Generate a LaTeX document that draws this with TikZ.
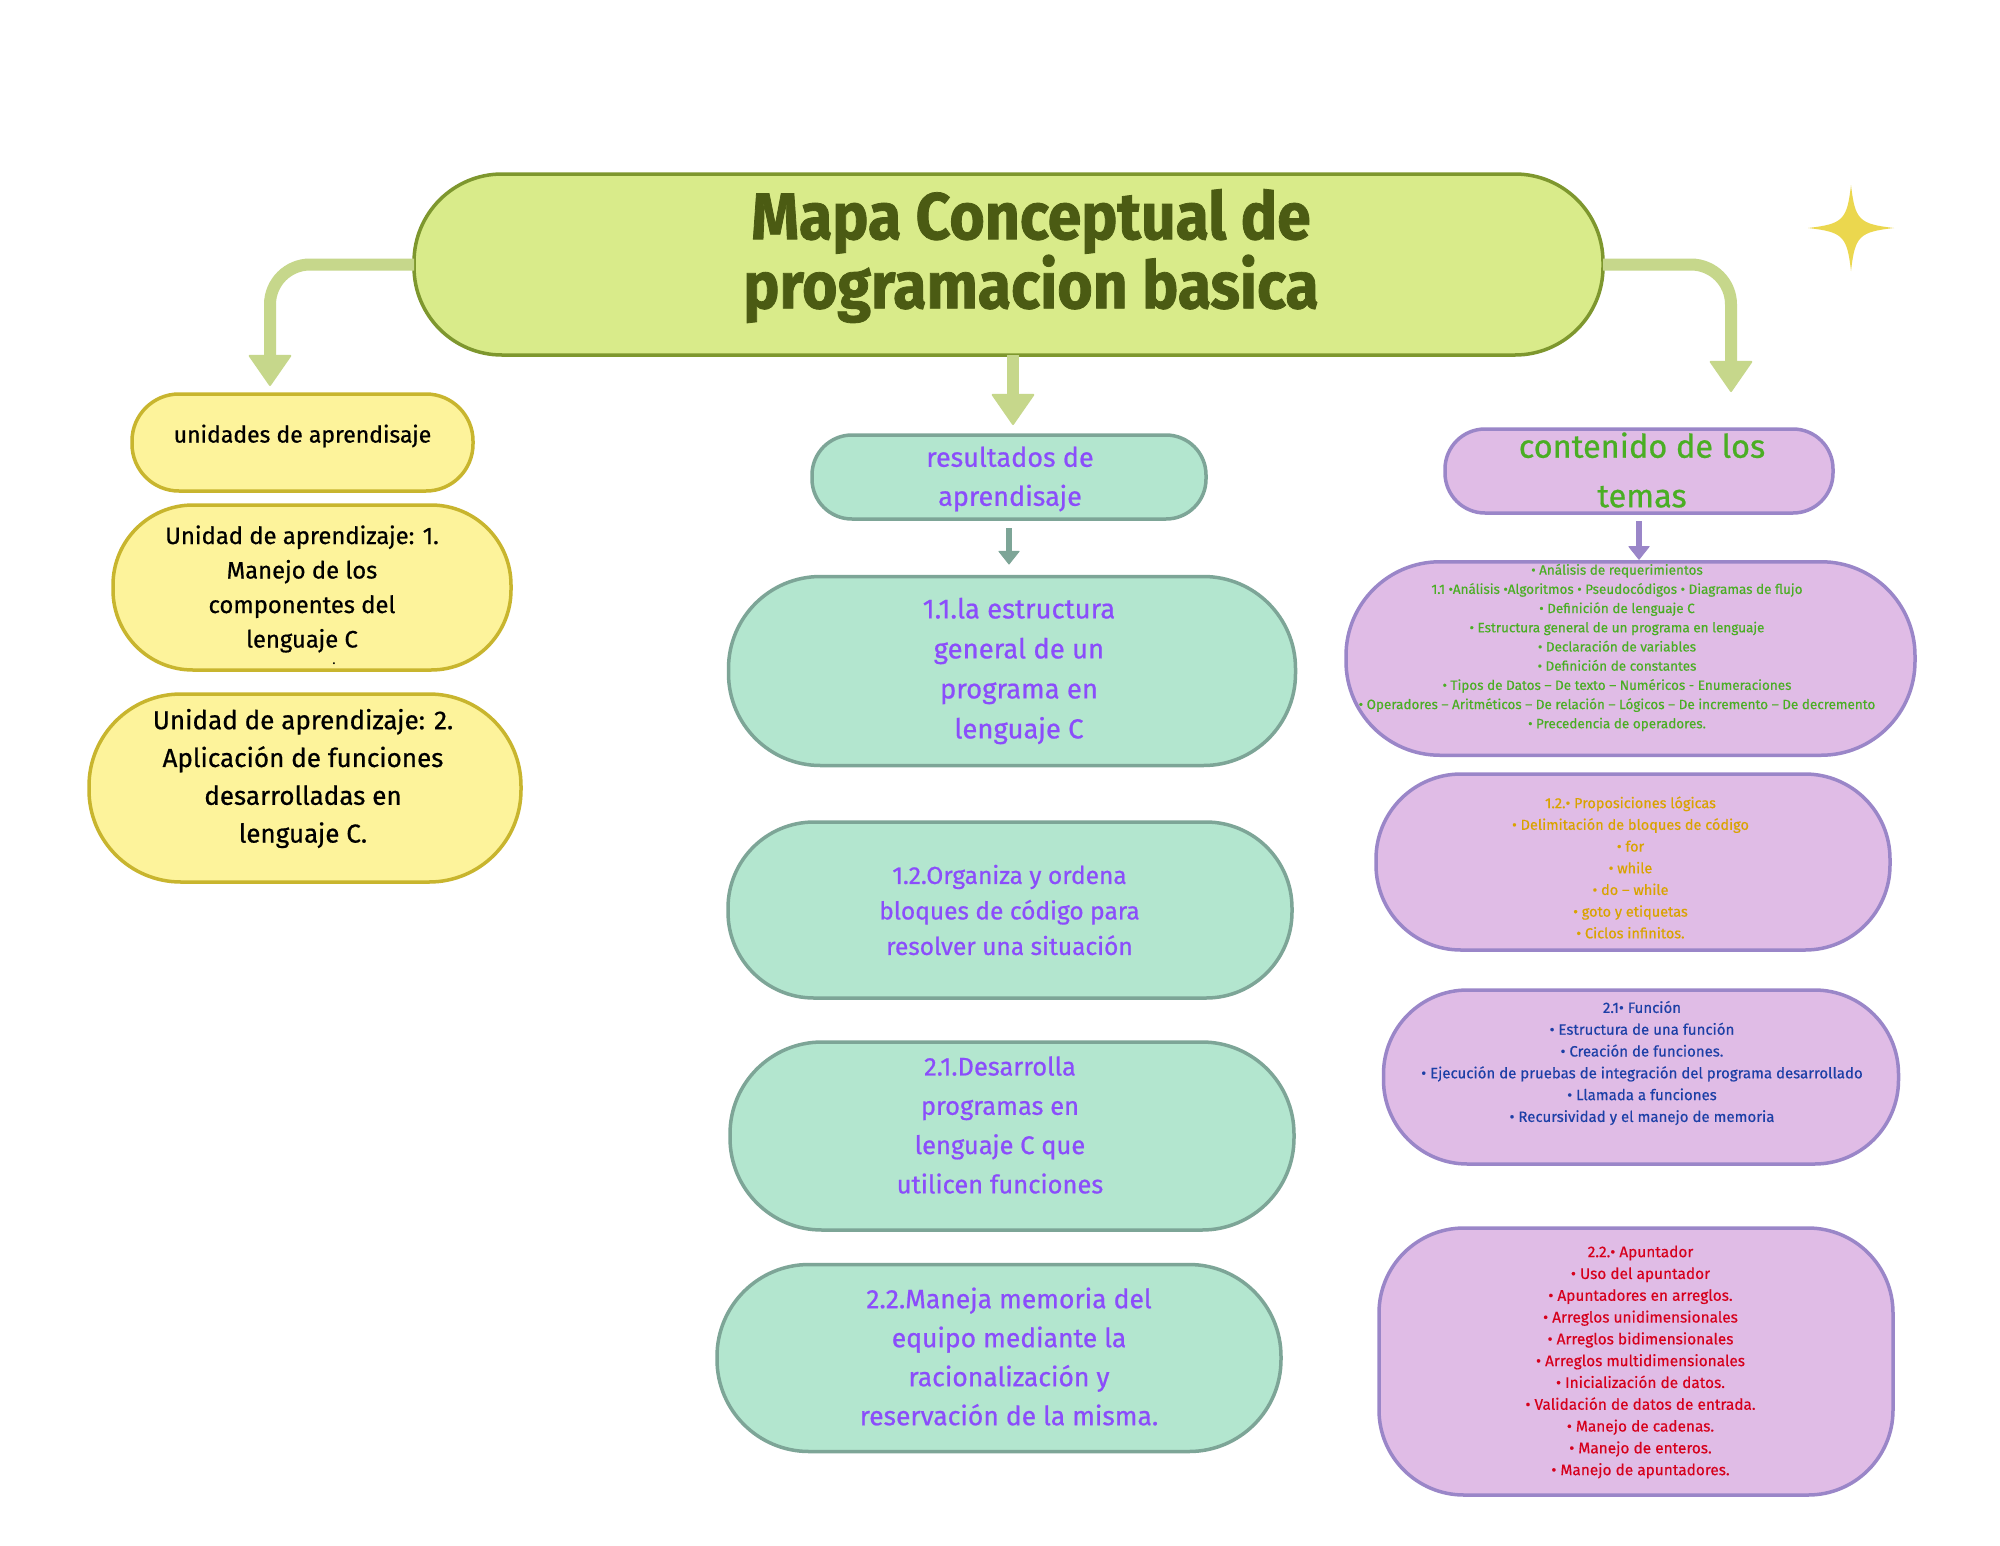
\documentclass[tikz,border=0pt]{standalone}
\usepackage{fontspec}
\setmainfont{Fira Sans}
\newfontfamily\titlefont[FakeStretch=0.92,FakeBold=1.2]{Fira Sans}
\newfontfamily\medfont[FakeBold=0.7]{Fira Sans}
\newfontfamily\smallfont[FakeBold=0.4]{Fira Sans}
\usetikzlibrary{arrows.meta}
\definecolor{tfill}{HTML}{D9EB8A}
\definecolor{tline}{HTML}{7E972E}
\definecolor{ttext}{HTML}{4B5B13}
\definecolor{connc}{HTML}{C6D78B}
\definecolor{yfill}{HTML}{FDF39B}
\definecolor{yline}{HTML}{C8B52E}
\definecolor{mfill}{HTML}{B3E6CF}
\definecolor{mline}{HTML}{7DA597}
\definecolor{mtext}{HTML}{8B4DFB}
\definecolor{pfill}{HTML}{E0BCE6}
\definecolor{pline}{HTML}{9A86C8}
\definecolor{gtext}{HTML}{4AAE24}
\definecolor{otext}{HTML}{D9A300}
\definecolor{btext}{HTML}{1C3FA6}
\definecolor{rtext}{HTML}{D6001C}
\definecolor{starc}{HTML}{EBD74E}
\tikzset{
  bx/.style={draw, line width=3.5pt, inner sep=0pt, outer sep=0pt, shape=rectangle},
  titlebox/.style={bx, fill=tfill, draw=tline},
  ybox/.style={bx, fill=yfill, draw=yline},
  mbox/.style={bx, fill=mfill, draw=mline},
  pbox/.style={bx, fill=pfill, draw=pline},
  txt/.style={align=center, inner sep=0pt},
  conn/.style={draw=connc, line width=12pt, -{Triangle[width=44pt,length=32pt,line width=2pt,round]}},
  smallarrow/.style={line width=6.5pt, -{Triangle[width=22pt,length=14pt,line width=1pt,round]}},
}
\newcommand{\fs}[2]{\fontsize{#1}{#2}\selectfont}
\begin{document}
\begin{tikzpicture}[x=1pt,y=-1pt]
\fill[white] (0,0) rectangle (2000,1545);
\useasboundingbox (0,0) rectangle (2000,1545);

% title
\node[titlebox, rounded corners=88pt, minimum width=1189pt, minimum height=181pt] (T) at (1008.5,264.5) {};
\node[txt, text=ttext, font=\titlefont\bfseries\fs{66}{64}] (Tt) at (1031,256) {Mapa Conceptual de\\programacion basica};

% star
\fill[starc] (1851,185) .. controls (1855,220) and (1859,224) .. (1894,228)
  .. controls (1859,232) and (1855,236) .. (1851,271)
  .. controls (1847,236) and (1843,232) .. (1808,228)
  .. controls (1843,224) and (1847,220) .. (1851,185) -- cycle;

% connector end points
\coordinate (tipL) at (270,386);
\coordinate (tipM) at (1013,425);
\coordinate (tipR) at (1731,392);
\draw[conn, rounded corners=40pt] (T.west) -| (tipL);
\draw[conn] (tipM |- T.south) -- (tipM);
\draw[conn, rounded corners=40pt] (T.east) -| (tipR);

% left column
\node[ybox, rounded corners=47pt, minimum width=341pt, minimum height=97pt] (U0) at (302.5,442.5) {};
\node[txt, font=\medfont\fs{23}{30}] (U0t) at (302.5,436) {unidades de aprendisaje};
\node[ybox, rounded corners=80pt, minimum width=398pt, minimum height=165pt] (U1) at (312,587.5) {};
\node[txt, font=\medfont\fs{23.8}{34.5}] (U1t) at (302,589) {Unidad de aprendizaje: 1.\\Manejo de los\\componentes del\\lenguaje C};
\node[txt, font=\fs{14}{14}] (U1d) at (334,664) {.};
\node[ybox, rounded corners=92pt, minimum width=432pt, minimum height=188pt] (U2) at (305,788) {};
\node[txt, font=\medfont\fs{26}{37.8}] (U2t) at (303,778.5) {Unidad de aprendizaje: 2.\\Aplicación de funciones\\desarrolladas en\\lenguaje C.};

% middle column
\node[mbox, rounded corners=40pt, minimum width=394pt, minimum height=84pt] (R0) at (1009,477) {};
\node[txt, text=mtext, font=\medfont\fs{27}{39}] (R0t) at (1010,479) {resultados de\\aprendisaje};
\node[mbox, rounded corners=92pt, minimum width=567pt, minimum height=189pt] (R1) at (1012,671) {};
\node[txt, text=mtext, font=\medfont\fs{27.5}{40}] (R1t) at (1019,671) {1.1.la estructura\\general de un\\programa en\\lenguaje C};
\node[mbox, rounded corners=86pt, minimum width=564pt, minimum height=176pt] (R2) at (1010,910) {};
\node[txt, text=mtext, font=\medfont\fs{24.5}{35.5}] (R2t) at (1009.5,910) {1.2.Organiza y ordena\\bloques de código para\\resolver una situación};
\node[mbox, rounded corners=92pt, minimum width=564pt, minimum height=188pt] (R3) at (1012,1136) {};
\node[txt, text=mtext, font=\medfont\fs{25.5}{39.3}] (R3t) at (1000,1125) {2.1.Desarrolla\\programas en\\lenguaje C que\\utilicen funciones};
\node[mbox, rounded corners=92pt, minimum width=564pt, minimum height=187pt] (R4) at (999,1358) {};
\node[txt, text=mtext, font=\medfont\fs{26.5}{39}] (R4t) at (1009,1356.5) {2.2.Maneja memoria del\\equipo mediante la\\racionalización y\\reservación de la misma.};
\draw[smallarrow, draw=mline, shorten <=9pt, shorten >=12pt] (R0.south) -- (R0.south |- R1.north);

% right column
\node[pbox, rounded corners=40pt, minimum width=388pt, minimum height=84pt] (C0) at (1639,471) {};
\node[txt, text=gtext, font=\medfont\fs{32.5}{49.5}] (C0t) at (1642,470) {contenido de los\\temas};
\node[pbox, rounded corners=94pt, minimum width=569pt, minimum height=193.5pt] (A) at (1630.5,658.5) {};
\node[txt, text=gtext, font=\smallfont\fs{13.5}{19.2}] (At) at (1617,647.5) {• Análisis de requerimientos\\1.1 •Análisis •Algoritmos • Pseudocódigos • Diagramas de flujo\\• Definición de lenguaje C\\• Estructura general de un programa en lenguaje\\• Declaración de variables\\• Definición de constantes\\• Tipos de Datos – De texto – Numéricos - Enumeraciones\\• Operadores – Aritméticos – De relación – Lógicos – De incremento – De decremento\\• Precedencia de operadores.};
\draw[smallarrow, draw=pline, shorten <=8pt, shorten >=2pt] (C0.south) -- (C0.south |- A.north);
\node[pbox, rounded corners=85pt, minimum width=514pt, minimum height=176pt] (B) at (1633,862) {};
\node[txt, text=otext, font=\smallfont\fs{14.5}{21.7}] (Bt) at (1630.5,867.5) {1.2.• Proposiciones lógicas\\• Delimitación de bloques de código\\• for\\• while\\• do – while\\• goto y etiquetas\\• Ciclos infinitos.};
\node[pbox, rounded corners=84pt, minimum width=515pt, minimum height=174pt] (C) at (1641,1077) {};
\node[txt, text=btext, font=\smallfont\fs{15}{21.8}] (Ct) at (1642,1063) {2.1• Función\\• Estructura de una función\\• Creación de funciones.\\• Ejecución de pruebas de integración del programa desarrollado\\• Llamada a funciones\\• Recursividad y el manejo de memoria};
\node[pbox, rounded corners=85pt, minimum width=514pt, minimum height=267pt] (D) at (1636,1361.5) {};
\node[txt, text=rtext, font=\smallfont\fs{15.4}{21.8}] (Dt) at (1640.5,1362) {2.2.• Apuntador\\• Uso del apuntador\\• Apuntadores en arreglos.\\• Arreglos unidimensionales\\• Arreglos bidimensionales\\• Arreglos multidimensionales\\• Inicialización de datos.\\• Validación de datos de entrada.\\• Manejo de cadenas.\\• Manejo de enteros.\\• Manejo de apuntadores.};
\end{tikzpicture}
\end{document}
